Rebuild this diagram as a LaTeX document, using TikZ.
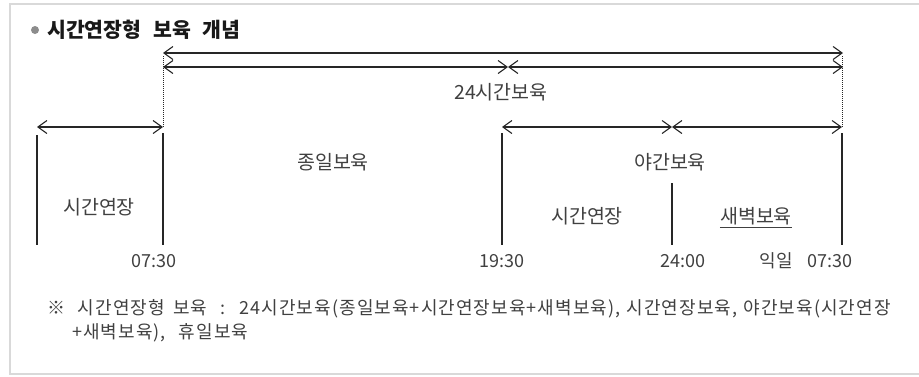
\documentclass[tikz,border=0pt]{standalone}
\usepackage{fontspec}
\setmainfont{Noto Sans CJK KR}[WordSpace=2.5]
\newfontfamily\notefont{Noto Sans CJK KR}[WordSpace=2.5,LetterSpace=6]
\usetikzlibrary{arrows.meta}
\begin{document}
\begin{tikzpicture}[x=1pt,y=-1pt,
  lbl/.style={text=black!75, font=\fontsize{19.5}{21}\selectfont, inner sep=0pt, anchor=center},
  tm/.style={text=black!75, font=\fontsize{18}{20}\selectfont, inner sep=0pt, anchor=center},
  note/.style={text=black!75, font=\notefont\fontsize{18}{20}\selectfont, inner sep=0pt, anchor=west},
  title/.style={text=black!90, font=\fontsize{20.5}{22}\selectfont\bfseries, inner sep=0pt, anchor=west},
  dim/.style={draw=black!85, line width=1.1pt, {Straight Barb[length=9pt,width=13pt]}-{Straight Barb[length=9pt,width=13pt]}},
  tick/.style={draw=black!85, line width=1.1pt},
  dotl/.style={draw=black!85, line width=1pt, densely dotted},
  frame/.style={draw=black!15, line width=1.5pt}]
\useasboundingbox (0,0) rectangle (919,376);
% frame (open on the right)
\draw[frame] (925,4) -- (10,4) -- (10,374) -- (925,374);
% title
\node[circle, fill=black!45, minimum size=8pt, inner sep=0pt] (bul) at (35,30) {};
\node[title] (ttl) at (47,30) {시간연장형 보육 개념};
% coordinates
\coordinate (a1L) at (163,53); \coordinate (a1R) at (843,53);
\coordinate (a2L) at (163,67); \coordinate (a2M) at (508,67); \coordinate (a2R) at (843,67);
\coordinate (a0L) at (37,127); \coordinate (a0R) at (163,127);
\coordinate (a3L) at (502,127); \coordinate (a3M) at (672,127); \coordinate (a3R) at (842,127);
\coordinate (d1t) at (163,56); \coordinate (d1b) at (163,127);
\coordinate (d2t) at (842,56); \coordinate (d2b) at (842,127);
\coordinate (v1t) at (37,135); \coordinate (v1b) at (37,245);
\coordinate (v2t) at (163,133); \coordinate (v2b) at (163,245);
\coordinate (v3t) at (502,133); \coordinate (v3b) at (502,245);
\coordinate (v4t) at (672,183); \coordinate (v4b) at (672,245);
\coordinate (v5t) at (842,133); \coordinate (v5b) at (842,245);
% arrows
\draw[dim] (a1L) -- (a1R);
\draw[dim] (a2L) -- (a2M);
\draw[dim] (a2M) -- (a2R);
\draw[dim] (a0L) -- (a0R);
\draw[dim] (a3L) -- (a3M);
\draw[dim] (a3M) -- (a3R);
% verticals
\draw[dotl] (d1t) -- (d1b);
\draw[dotl] (d2t) -- (d2b);
\draw[tick] (v1t) -- (v1b);
\draw[tick] (v2t) -- (v2b);
\draw[tick] (v3t) -- (v3b);
\draw[tick] (v4t) -- (v4b);
\draw[tick] (v5t) -- (v5b);
% labels
\node[lbl] (h24) at (501,92) {24시간보육};
\node[lbl] (jong) at (333,162) {종일보육};
\node[lbl] (ext1) at (99,207) {시간연장};
\node[lbl] (night) at (670,162) {야간보육};
\node[lbl] (ext2) at (587,216) {시간연장};
\node[lbl] (dawn) at (756,216) {새벽보육};
\draw[draw=black!75, line width=0.9pt] ([yshift=-2.5pt]dawn.south west) -- ([yshift=-2.5pt]dawn.south east);
\node[tm] (t1) at (154,261) {07:30};
\node[tm] (t2) at (502,261) {19:30};
\node[tm] (t3) at (683,261) {24:00};
\node[tm] (t4) at (776,261) {익일};
\node[tm] (t5) at (830,261) {07:30};
% note
\node[note] (n1) at (47,309) {※ 시간연장형\hspace{8pt}보육 : 24시간보육(종일보육+시간연장보육+새벽보육),\hspace{6pt}시간연장보육,\hspace{6pt}야간보육(시간연장};
\node[note] (n2) at (72,333) {+새벽보육), 휴일보육};
\end{tikzpicture}
\end{document}
